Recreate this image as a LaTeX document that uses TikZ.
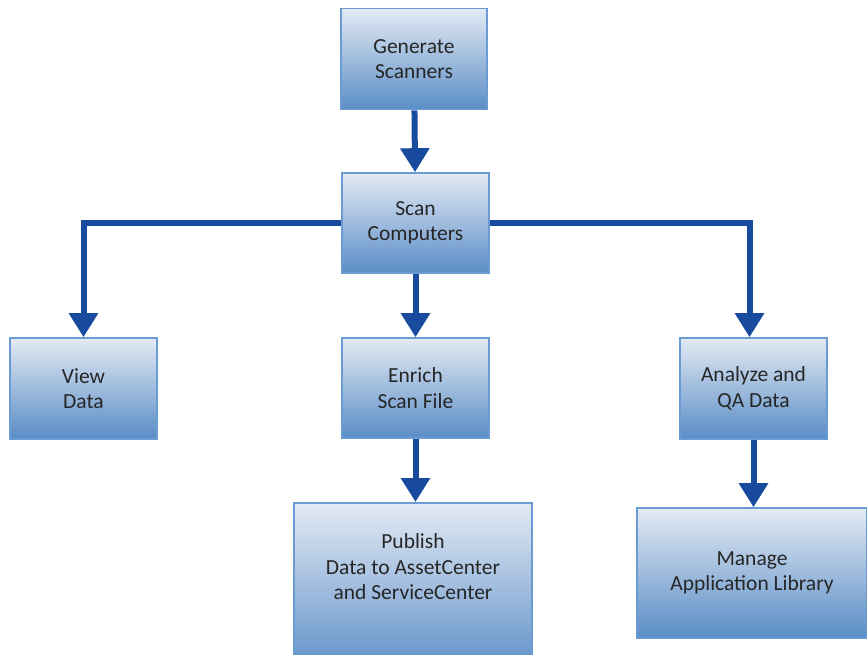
\documentclass[tikz,border=0pt]{standalone}
\usepackage{fontspec}
\setmainfont{Carlito}
\usetikzlibrary{arrows.meta}
\definecolor{flowblue}{HTML}{184A9E}
\definecolor{boxtop}{HTML}{E3EAF4}
\definecolor{boxbottom}{HTML}{5A8DC6}
\definecolor{boxedge}{HTML}{6B9BD3}
\definecolor{labelgray}{HTML}{262626}
\tikzset{
  stepbox/.style={draw=boxedge, line width=1.6pt, top color=boxtop, bottom color=boxbottom,
    rectangle, inner sep=0pt, align=center, text=labelgray,
    font=\fontsize{21.5}{25.5}\selectfont},
  steptext/.style={inner sep=0pt, align=center, text=labelgray,
    font=\fontsize{21.5}{25.5}\selectfont},
  flow/.style={draw=flowblue, line width=6pt, line join=miter,
    -{Triangle[width=28pt,length=24pt]}}
}
\begin{document}
\begin{tikzpicture}[x=1pt, y=-1pt]
\useasboundingbox (0,0) rectangle (867,655);

\node[stepbox, minimum width=146pt, minimum height=101pt] (gen) at (414,59) {Generate\\Scanners};
\node[stepbox, minimum width=147pt, minimum height=100pt] (scan) at (415.5,223) {Scan\\Computers};
\node[stepbox, minimum width=147pt, minimum height=101pt] (view) at (83.5,388.5) {View\\Data};
\node[stepbox, minimum width=147pt, minimum height=100pt] (enrich) at (415.5,388) {Enrich\\Scan File};
\node[stepbox, minimum width=147pt, minimum height=101pt] (ana) at (753.5,388.5) {Analyze and\\QA Data};

% publish box runs past the bottom edge; its text sits in the upper part
\node[stepbox, minimum width=238pt, minimum height=175pt, anchor=north] (pub) at (413,502) {};
\node[steptext] (pubtext) at (413,567) {Publish\\Data to AssetCenter\\and ServiceCenter};

\node[stepbox, minimum width=230pt, minimum height=130pt] (man) at (752,573) {Manage\\Application Library};

\draw[flow] (gen) -- (scan);
\draw[flow] (scan.west) -| (view.north);
\draw[flow] (scan.east) -| ([xshift=-4pt]ana.north);
\draw[flow] (scan) -- (enrich);
\draw[flow] (enrich.south) -- (enrich.south |- pub.north);
\draw[flow] (ana.south) -- (ana.south |- man.north);
\end{tikzpicture}
\end{document}
